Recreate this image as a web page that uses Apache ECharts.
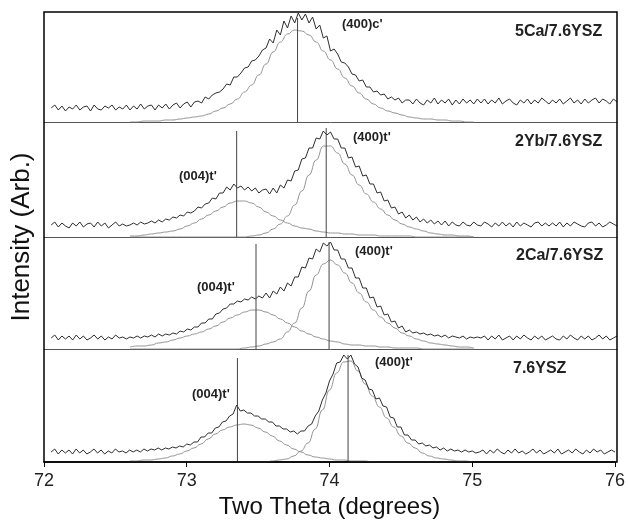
<!DOCTYPE html>
<html>
<head>
<meta charset="utf-8">
<script src="https://cdn.jsdelivr.net/npm/echarts@6/dist/echarts.min.js"></script>
<style>
  html, body { margin: 0; padding: 0; background: #fff; }
  #chart { width: 628px; height: 523px; }
</style>
</head>
<body>
<div id="chart"></div>
<script>
// scan grid (degrees 2-theta) of the measured patterns and of the fitted profiles
var scanStart = 72.05, scanStep = 0.025;
var fitStart = 72.6, fitStep = 0.05;

var xTicks = [72, 73, 74, 75, 76];
var sampleNames = ['5Ca/7.6YSZ', '2Yb/7.6YSZ', '2Ca/7.6YSZ', '7.6YSZ'];

// measured intensity (arb.), one value per scan step
var counts5Ca = [
  14,17,12,16,11,15,13,17,12,15,16,11,17,13,12,16,14,17,12,15,
  13,17,12,16,13,18,13,16,17,12,17,14,18,13,17,19,14,18,20,15,
  20,21,19,25,23,27,29,30,33,38,37,45,45,49,54,55,61,62,66,72,
  74,83,79,92,87,101,94,106,99,109,102,108,99,105,93,97,84,86,71,73,
  68,60,59,55,48,47,41,42,35,35,30,31,27,28,23,25,22,24,19,22,
  22,18,23,19,17,22,19,24,18,22,19,23,17,22,18,23,19,22,18,23,
  19,23,18,22,19,24,18,21,23,19,17,22,19,23,18,22,19,24,21,18,
  22,19,23,18,21,24,19,22,18,23,19,22,24,19,23,21,18,23,20
];
var counts2Yb = [
  12,15,10,14,11,9,14,11,15,10,13,14,10,15,11,14,9,12,15,11,
  13,11,12,14,12,15,13,14,16,14,17,15,18,17,20,19,22,21,25,24,
  26,30,29,33,34,39,38,44,44,50,47,53,49,51,47,50,46,49,44,47,
  48,43,49,44,52,49,57,56,66,67,78,79,89,89,99,98,106,102,105,98,
  98,89,89,79,80,70,71,61,62,53,53,44,45,36,37,29,30,23,25,19,
  22,17,20,15,18,14,17,13,16,12,16,11,15,12,11,15,12,11,15,12,
  11,15,13,10,14,11,15,11,14,10,15,11,14,12,10,14,15,11,14,11,
  14,11,15,10,14,11,15,13,11,10,14,15,11,14,10,12,15,13,11
];
var counts2Ca = [
  11,14,9,13,10,13,9,14,10,13,9,11,14,10,13,9,12,10,14,11,
  12,10,12,11,13,11,13,12,14,12,15,13,15,14,16,15,18,17,20,19,
  22,22,26,26,30,30,35,36,40,41,45,45,48,47,50,49,52,50,53,51,
  56,51,58,55,62,58,66,63,72,72,82,81,91,90,100,97,106,103,107,99,
  99,90,90,81,81,71,71,61,61,51,52,42,43,34,35,27,28,21,23,17,
  19,16,17,15,16,14,15,13,14,12,14,11,13,12,11,13,10,12,11,12,
  11,13,9,13,10,14,9,11,13,9,13,10,14,11,9,13,10,13,9,11,
  13,10,9,13,10,14,11,9,13,10,13,9,11,14,10,13,9,11,13
];
var counts76 = [
  10,13,8,12,9,12,8,13,9,12,8,10,13,9,12,8,11,9,13,10,
  11,9,12,10,12,10,13,11,13,12,14,12,14,13,15,14,16,15,18,17,
  20,20,25,25,29,29,34,35,40,41,46,48,57,51,52,49,49,46,46,43,
  43,40,40,36,36,33,33,30,31,28,31,31,36,38,46,51,62,69,81,88,
  99,100,107,103,107,98,95,84,82,73,72,63,64,56,55,45,44,35,35,27,
  27,22,22,18,19,16,17,14,15,12,14,11,13,11,12,10,12,10,11,9,
  10,12,8,12,9,13,10,8,12,9,13,9,11,8,10,13,9,12,8,10,
  12,9,13,8,10,12,9,13,10,8,12,9,13,10,12,8,10,12,10
];

// fitted peak profiles, one value per fit step
var fit5Ca400 = [
  0,0,1,1,1,2,2,3,4,5,6,8,11,14,18,23,30,37,47,58,70,80,88,92,91,
  87,80,71,62,53,44,36,29,23,18,14,11,9,7,5,4,3,3,2,2,1,1,0,0
];
var fit2Yb004 = [
  1,1,2,3,4,5,6,8,11,14,18,22,26,30,34,36,36,34,30,25,21,17,14,11,9,
  8,6,5,4,4,3,3,2,2,2,1,1,1,1,1,0,0,0,0,0,0,0,0,0
];
var fit2Yb400 = [
  0,0,0,0,0,0,0,0,0,0,0,0,0,0,0,0,0,1,2,4,8,13,21,32,46,
  62,77,91,91,84,73,62,52,43,35,28,22,17,13,10,8,6,4,3,2,2,1,1,0
];
var fit2Ca004 = [
  2,3,3,4,6,7,9,11,13,15,17,20,23,27,31,34,37,39,39,37,34,30,26,22,18,
  15,12,10,8,7,5,4,4,3,3,2,2,1,1,1,1,0,0,0,0,0,0,0,0
];
var fit2Ca400 = [
  0,0,0,0,0,0,0,0,0,0,0,0,0,0,0,0,1,2,3,5,7,10,17,26,41,
  58,74,85,89,84,76,66,56,47,39,32,26,21,16,13,10,8,6,5,4,3,2,2,1
];
var fit76004 = [
  1,1,2,2,3,4,6,8,11,14,18,23,28,32,35,37,38,37,34,30,26,21,17,13,10,
  7,5,4,3,2,2,1,1,1,0,0,0,0,0,0,0,0,0,0,0,0,0,0,0
];
var fit76400 = [
  0,0,0,0,0,0,0,0,0,0,0,0,0,0,0,0,0,0,0,0,1,2,3,6,11,
  19,33,52,72,89,100,101,91,78,66,55,44,35,26,19,14,9,6,4,3,2,1,1,0
];

// peak positions (deg) and the height of their marker lines
var peaks5Ca = [73.77], peakTops5Ca = [104];
var peaks2Yb = [73.345, 73.97], peakTops2Yb = [106, 109];
var peaks2Ca = [73.48, 73.99], peakTops2Ca = [105, 107];
var peaks76 = [73.355, 74.13], peakTops76 = [104, 107];

var panels = [
  { counts: counts5Ca, fits: [fit5Ca400], peaks: peaks5Ca, tops: peakTops5Ca, top: 12, h: 110 },
  { counts: counts2Yb, fits: [fit2Yb004, fit2Yb400], peaks: peaks2Yb, tops: peakTops2Yb, top: 122, h: 115 },
  { counts: counts2Ca, fits: [fit2Ca004, fit2Ca400], peaks: peaks2Ca, tops: peakTops2Ca, top: 237, h: 112 },
  { counts: counts76, fits: [fit76004, fit76400], peaks: peaks76, tops: peakTops76, top: 349, h: 113 }
];

function pairs(arr, start, step) {
  return arr.map(function (v, i) { return [+(start + i * step).toFixed(4), v]; });
}

var grids = [], xAxes = [], yAxes = [], series = [];
panels.forEach(function (p, i) {
  var last = i === panels.length - 1;
  grids.push({ left: 44, right: 11, top: p.top, height: p.h, show: false });
  xAxes.push({
    gridIndex: i, type: 'value', min: xTicks[0], max: xTicks[xTicks.length - 1], interval: 1,
    axisLine: { show: true, onZero: false, lineStyle: { color: last ? '#000' : '#555', width: last ? 1.5 : 1 } },
    axisTick: { show: last, inside: false, length: 5, lineStyle: { color: '#000' } },
    axisLabel: { show: last, margin: 10, fontSize: 18, color: '#222', fontFamily: 'Liberation Sans' },
    splitLine: { show: false },
    name: last ? 'Two Theta (degrees)' : '',
    nameLocation: 'middle', nameGap: 33,
    nameTextStyle: { fontSize: 24, color: '#111', fontFamily: 'Liberation Sans' }
  });
  yAxes.push({
    gridIndex: i, type: 'value', min: 0, max: p.h,
    axisLine: { show: false }, axisTick: { show: false }, axisLabel: { show: false }, splitLine: { show: false }
  });
  p.fits.forEach(function (f) {
    series.push({
      type: 'line', xAxisIndex: i, yAxisIndex: i, data: pairs(f, fitStart, fitStep),
      smooth: true, smoothMonotone: 'x', showSymbol: false, silent: true,
      lineStyle: { color: '#939393', width: 1 }, z: 2
    });
  });
  series.push({
    type: 'line', xAxisIndex: i, yAxisIndex: i, data: pairs(p.counts, scanStart, scanStep),
    showSymbol: false, silent: true, lineStyle: { color: '#2e2e2e', width: 1 }, z: 3
  });
  p.peaks.forEach(function (x, k) {
    series.push({
      type: 'line', xAxisIndex: i, yAxisIndex: i, data: [[x, 0], [x, p.tops[k]]],
      showSymbol: false, silent: true, lineStyle: { color: '#444', width: 1 }, z: 4
    });
  });
});

function label(text, x, y, size, bold) {
  return {
    type: 'text', left: x, top: y - size / 2 - 1, z: 10,
    style: { text: text, fontSize: size, fontWeight: bold ? 'bold' : 'normal', fill: '#222', fontFamily: 'Liberation Sans' }
  };
}

var graphics = [
  // outer frame
  { type: 'rect', shape: { x: 44, y: 12, width: 573, height: 450 }, style: { fill: 'none', stroke: '#000', lineWidth: 1.5 }, z: 10 },
  {
    type: 'text', x: 22, y: 237, rotation: Math.PI / 2, z: 10,
    style: { text: 'Intensity (Arb.)', fontSize: 26, fill: '#111', fontFamily: 'Liberation Sans', align: 'center', verticalAlign: 'middle' }
  },
  label(sampleNames[0], 515, 33, 16, true),
  label(sampleNames[1], 515, 143, 16, true),
  label(sampleNames[2], 516, 257, 16, true),
  label(sampleNames[3], 513, 370, 16, true),
  label("(400)c'", 342, 25, 13, true),
  label("(004)t'", 179, 177, 13, true),
  label("(400)t'", 353, 138, 13, true),
  label("(004)t'", 197, 288, 13, true),
  label("(400)t'", 355, 252, 13, true),
  label("(004)t'", 192, 395, 13, true),
  label("(400)t'", 375, 363, 13, true)
];

var chart = echarts.init(document.getElementById('chart'), null, { renderer: 'canvas' });
chart.setOption({
  animation: false,
  backgroundColor: '#fff',
  grid: grids,
  xAxis: xAxes,
  yAxis: yAxes,
  series: series,
  graphic: graphics
});
</script>
</body>
</html>
